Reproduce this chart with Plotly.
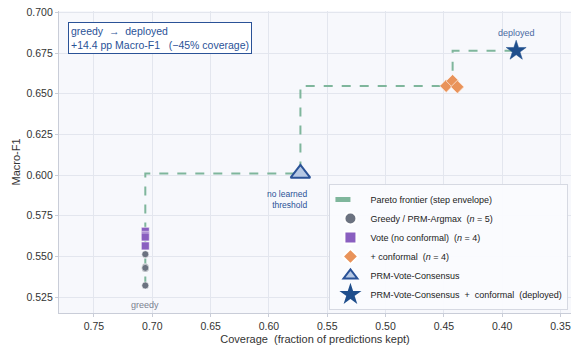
import plotly.graph_objects as go

# ---- data ----
greedy_cov = [0.706, 0.706, 0.706, 0.706, 0.706]
greedy_f1 = [0.5514, 0.5436, 0.5426, 0.5430, 0.5322]

vote_cov = [0.706, 0.706, 0.706, 0.706]
vote_f1 = [0.5655, 0.5630, 0.5620, 0.5565]

conf_cov = [0.448, 0.4425, 0.4383, 0.4385]
conf_f1 = [0.6548, 0.6578, 0.6540, 0.6542]

pvc_cov = [0.573]
pvc_f1 = [0.601]

dep_cov = [0.388]
dep_f1 = [0.6764]

front_cov = [0.706, 0.706, 0.573, 0.448, 0.4425, 0.388]
front_f1 = [0.5322, 0.5655, 0.601, 0.6548, 0.6578, 0.6764]

x_ticks = [0.75, 0.70, 0.65, 0.60, 0.55, 0.50, 0.45, 0.40, 0.35]
y_ticks = [0.525, 0.550, 0.575, 0.600, 0.625, 0.650, 0.675, 0.700]

FONT = "Liberation Sans, Arial, sans-serif"
BLUE = "#2a5297"

fig = go.Figure()
fig.add_trace(go.Scatter(x=front_cov, y=front_f1, mode="lines", line_shape="vh",
                         line=dict(color="#7fb69c", width=2, dash="dash"),
                         name="Pareto frontier (step envelope)"))
fig.add_trace(go.Scatter(x=greedy_cov, y=greedy_f1, mode="markers",
                         marker=dict(symbol="circle", size=7, color="#6b7280",
                                     line=dict(color="white", width=0.6)),
                         name="Greedy / PRM-Argmax  (<i>n</i> = 5)"))
fig.add_trace(go.Scatter(x=vote_cov, y=vote_f1, mode="markers",
                         marker=dict(symbol="square", size=8, color="#8a5fc0",
                                     line=dict(color="white", width=0.6)),
                         name="Vote (no conformal)  (<i>n</i> = 4)"))
fig.add_trace(go.Scatter(x=conf_cov, y=conf_f1, mode="markers",
                         marker=dict(symbol="diamond", size=10, color="#e9935a",
                                     line=dict(color="white", width=0.6)),
                         name="+ conformal  (<i>n</i> = 4)"))
fig.add_trace(go.Scatter(x=pvc_cov, y=pvc_f1, mode="markers",
                         marker=dict(symbol="triangle-up", size=17, color="#b6c8e4",
                                     line=dict(color=BLUE, width=2)),
                         name="PRM-Vote-Consensus"))
fig.add_trace(go.Scatter(x=dep_cov, y=dep_f1, mode="markers",
                         marker=dict(symbol="star", size=15, color="#1f4e8c",
                                     line=dict(color="#1f4e8c", width=0.5)),
                         name="PRM-Vote-Consensus  +  conformal  (deployed)"))

fig.add_annotation(x=greedy_cov[0], y=0.5202, text="greedy", showarrow=False,
                   font=dict(size=9, color="#7b8190", family=FONT))
fig.add_annotation(x=pvc_cov[0], y=0.585, text="no learned<br>threshold", showarrow=False,
                   align="right", xanchor="right", xshift=9,
                   font=dict(size=8.5, color=BLUE, family=FONT))
fig.add_annotation(x=dep_cov[0], y=0.687, text="deployed", showarrow=False,
                   font=dict(size=9, color="#4a6aa3", family=FONT))
fig.add_annotation(xref="paper", yref="paper", x=0.018, y=0.962, xanchor="left", yanchor="top",
                   text="greedy  →  deployed<br>+14.4 pp Macro-F1   (−45% coverage)",
                   showarrow=False, align="left", bgcolor="white", bordercolor=BLUE,
                   borderwidth=1, borderpad=2,
                   font=dict(size=10.5, color=BLUE, family=FONT))

fig.update_layout(
    width=580, height=349,
    margin=dict(l=59, r=9, t=6, b=36),
    paper_bgcolor="white", plot_bgcolor="#f7f8fc",
    font=dict(family=FONT, size=10.5, color="#333333"),
    legend=dict(x=0.995, y=0.01, xanchor="right", yanchor="bottom",
                bgcolor="rgba(250,251,254,0.95)", bordercolor="#d6d9e2", borderwidth=1,
                font=dict(size=9, color="#222222", family=FONT),
                tracegroupgap=0, itemsizing="constant", itemwidth=30),
    showlegend=True,
)
fig.update_xaxes(range=[0.78, 0.341], tickvals=x_ticks, ticktext=[f"{v:.2f}" for v in x_ticks],
                 showgrid=True, gridcolor="#e3e6ee", gridwidth=1, zeroline=False,
                 showline=True, linecolor="#c9cdd8", linewidth=1.2,
                 ticks="outside", ticklen=3, tickcolor="#c9cdd8",
                 title=dict(text="Coverage  (fraction of predictions kept)", standoff=4,
                            font=dict(size=11)),
                 tickfont=dict(size=10.5))
fig.update_yaxes(range=[0.5153, 0.7008], tickvals=y_ticks, ticktext=[f"{v:.3f}" for v in y_ticks],
                 showgrid=True, gridcolor="#e3e6ee", gridwidth=1, zeroline=False,
                 showline=True, linecolor="#c9cdd8", linewidth=1.2,
                 ticks="outside", ticklen=3, tickcolor="#c9cdd8", automargin=True,
                 title=dict(text="Macro-F1", standoff=3, font=dict(size=11)),
                 tickfont=dict(size=10.5))

fig.write_html("out.html")
